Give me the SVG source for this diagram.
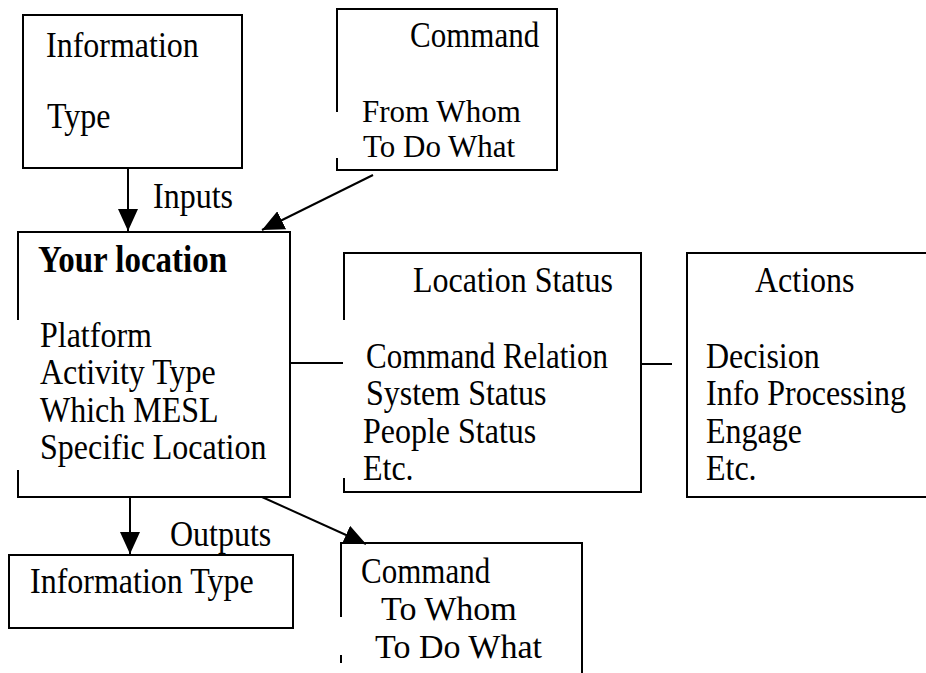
<svg xmlns="http://www.w3.org/2000/svg" width="926" height="673" viewBox="0 0 926 673">
<style>
.box{fill:none;stroke:#000;stroke-width:2}
.t{font-family:"Liberation Serif","Times New Roman",serif;font-size:32px;fill:#000}
.b{font-weight:bold;font-size:33px}
.s31{font-size:31px}
.s34{font-size:34px}
.c{stroke:#000;stroke-width:2;fill:none}
</style>
<defs>
<marker id="ah" markerUnits="userSpaceOnUse" markerWidth="22" markerHeight="20" refX="22" refY="10" orient="auto">
<path d="M0,0 L22,10 L0,20 z" fill="#000"/>
</marker>
</defs>
<rect width="926" height="673" fill="#fff"/>
<g id="connectors">
<line class="c" x1="128" y1="168" x2="128" y2="231" marker-end="url(#ah)"/>
<line class="c" x1="373" y1="175" x2="262" y2="230" marker-end="url(#ah)"/>
<line class="c" x1="262" y1="497" x2="366" y2="544" marker-end="url(#ah)"/>
<line class="c" x1="130" y1="497" x2="130" y2="554" marker-end="url(#ah)"/>
<line class="c" x1="290" y1="363" x2="343" y2="363"/>
<line class="c" x1="641" y1="364" x2="672" y2="364"/>
<text class="t" transform="translate(153,208) scale(1,1.14)">Inputs</text>
<text class="t" transform="translate(170,546) scale(1,1.14)">Outputs</text>
</g>
<g id="info-in">
<rect class="box" x="23" y="15" width="219" height="153"/>
<text class="t" transform="translate(46,57) scale(1,1.14)">Information</text>
<text class="t" transform="translate(47,128) scale(1,1.14)">Type</text>
</g>
<g id="command-in">
<path class="box" d="M337,112 V9 H557 V170 H337 V158"/>
<text class="t s31" transform="translate(410,47) scale(1,1.14)">Command</text>
<text class="t s31" x="362" y="122">From Whom</text>
<text class="t s31" x="363" y="157">To Do What</text>
</g>
<g id="your-location">
<path class="box" d="M18,320 V232 H290 V497 H18 V470"/>
<text class="t b" transform="translate(38,272) scale(1,1.14)">Your location</text>
<text class="t" transform="translate(40,347) scale(1,1.14)">Platform</text>
<text class="t" transform="translate(40,384) scale(1,1.14)">Activity Type</text>
<text class="t" transform="translate(40,422) scale(1,1.14)">Which MESL</text>
<text class="t" transform="translate(40,459) scale(1,1.14)">Specific Location</text>
</g>
<g id="location-status">
<path class="box" d="M344,320 V253 H641 V492 H344 V478"/>
<text class="t" transform="translate(413,292) scale(1,1.14)">Location Status</text>
<text class="t s31" transform="translate(366,368) scale(1,1.14)">Command Relation</text>
<text class="t" transform="translate(366,405) scale(1,1.14)">System Status</text>
<text class="t" transform="translate(363,443) scale(1,1.14)">People Status</text>
<text class="t" transform="translate(363,480) scale(1,1.14)">Etc.</text>
</g>
<g id="actions">
<rect class="box" x="687" y="253" width="245" height="244"/>
<text class="t" transform="translate(755,292) scale(1,1.14)">Actions</text>
<text class="t" transform="translate(706,368) scale(1,1.14)">Decision</text>
<text class="t" transform="translate(706,405) scale(1,1.14)">Info Processing</text>
<text class="t" transform="translate(706,443) scale(1,1.14)">Engage</text>
<text class="t" transform="translate(706,480) scale(1,1.14)">Etc.</text>
</g>
<g id="info-out">
<rect class="box" x="9" y="555" width="284" height="73"/>
<text class="t" transform="translate(30,593) scale(1,1.14)">Information Type</text>
</g>
<g id="command-out">
<path class="box" d="M341,617 V543 H582 V673"/>
<path class="box" d="M341,655 V663"/>
<text class="t s31" transform="translate(361,583) scale(1,1.14)">Command</text>
<text class="t s34" x="381" y="620">To Whom</text>
<text class="t s34" x="375" y="658">To Do What</text>
</g>
</svg>
